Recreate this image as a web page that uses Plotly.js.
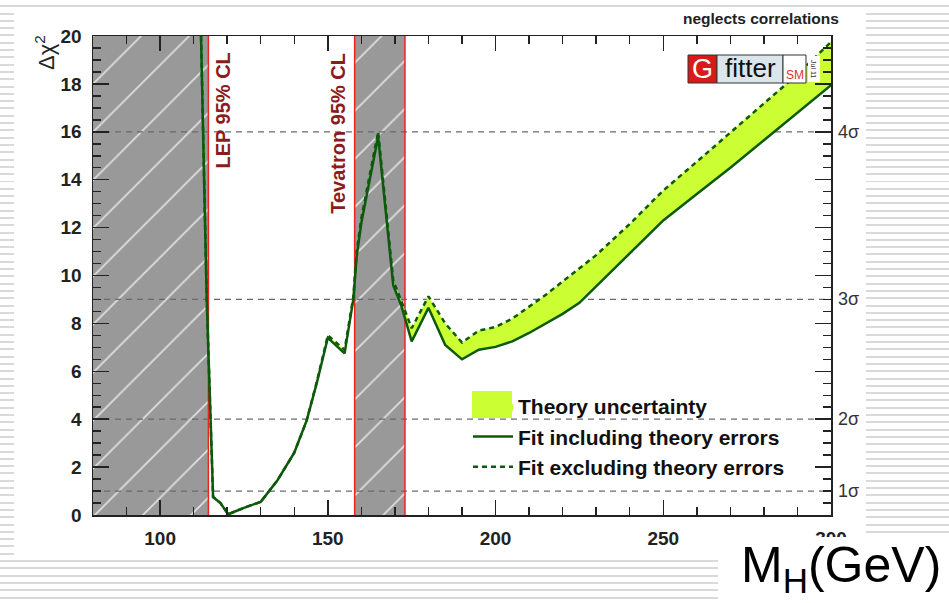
<!DOCTYPE html>
<html><head><meta charset="utf-8">
<script src="https://cdn.plot.ly/plotly-3.0.1.min.js"></script>
<style>
html,body{margin:0;padding:0;width:949px;height:603px;overflow:hidden;
background:repeating-linear-gradient(to bottom,#fff 0px,#fff 5.3px,#d9d9d9 5.3px,#d9d9d9 7.3px);}
#sheet{position:absolute;left:14px;top:10px;width:852px;height:550px;background:#fff;}
#mhbox{position:absolute;left:718px;top:537px;width:231px;height:66px;background:#fff;}
#chart{position:absolute;left:0;top:0;width:949px;height:603px;}
</style></head><body>
<div id="sheet"></div><div id="mhbox"></div><div id="chart"></div>
<script>
// Higgs mass (GeV)
const mh = [112.2, 113.9, 115.8, 118, 120.3, 125, 130, 135, 140, 143.7, 146.7, 150, 155, 157.6, 158.6, 160, 165, 169.5, 172, 175, 180, 185, 190, 195, 200, 205, 210, 215, 220, 225, 230, 240, 250, 260, 270, 280, 290, 300];
// Delta chi^2, fit including theory errors (solid)
const chi2Incl = [20, 9, 0.75, 0.5, 0.03, 0.3, 0.55, 1.45, 2.6, 3.95, 5.5, 7.4, 6.75, 9.0, 10.8, 12.2, 15.8, 9.6, 8.7, 7.25, 8.65, 7.1, 6.5, 6.9, 7.02, 7.25, 7.6, 8.0, 8.4, 8.86, 9.55, 10.9, 12.3, 13.4, 14.5, 15.65, 16.8, 17.95];
// Delta chi^2, fit excluding theory errors (dashed)
const chi2Excl = [20, 9, 0.75, 0.5, 0.03, 0.3, 0.55, 1.45, 2.6, 3.95, 5.55, 7.5, 6.9, 9.1, 11.0, 12.4, 16.0, 9.8, 8.9, 7.8, 9.13, 8.0, 7.2, 7.7, 7.85, 8.2, 8.7, 9.2, 9.75, 10.3, 10.85, 12.15, 13.55, 14.75, 15.97, 17.2, 18.4, 19.75];
// exclusion limits (GeV)
const lepLimit = 114.4;
const tevatronLimits = [158, 173];
const xMin = 80, xMax = 300, yMin = 0, yMax = 20;
// significance levels
const sigmaLevels = [1, 4, 9, 16];
const sigmaLabels = ['1σ', '2σ', '3σ', '4σ'];
const xTicks = [100, 150, 200, 250, 300];
const yTicks = [0, 2, 4, 6, 8, 10, 12, 14, 16, 18, 20];

const FONT = 'Liberation Sans, Arial, Helvetica, sans-serif';
const L = 93, R = 118, T = 36, B = 88, W = 949, H = 603;
const pw = W - L - R, ph = H - T - B;
const px = v => (v - L) / pw;
const py = v => (H - B - v) / ph;

const traces = [];
const hatch = {shape: '/', bgcolor: '#999999', fgcolor: '#e0e0e0', size: 34, solidity: 0.05, fillmode: 'replace'};
function band(x0, x1) {
  traces.push({x: [x0, x0, x1, x1, x0], y: [yMin, yMax, yMax, yMin, yMin], type: 'scatter', mode: 'lines',
    fill: 'toself', fillcolor: '#999999', fillpattern: hatch, line: {width: 0}, hoverinfo: 'skip', showlegend: false});
}
band(xMin, lepLimit);
band(tevatronLimits[0], tevatronLimits[1]);
sigmaLevels.forEach(s => traces.push({x: [xMin, xMax], y: [s, s], type: 'scatter', mode: 'lines',
  line: {color: '#6a6a6a', width: 1.3, dash: '6px,5px'}, hoverinfo: 'skip', showlegend: false}));
[lepLimit, tevatronLimits[0], tevatronLimits[1]].forEach(v => traces.push({x: [v, v], y: [yMin, yMax], type: 'scatter', mode: 'lines',
  line: {color: '#ee2222', width: 1.5}, hoverinfo: 'skip', showlegend: false}));
// theory uncertainty band
traces.push({x: mh.concat(mh.slice().reverse()), y: chi2Incl.concat(chi2Excl.slice().reverse()), type: 'scatter', mode: 'lines',
  fill: 'toself', fillcolor: '#ccff33', line: {width: 0, color: '#ccff33'}, name: 'Theory uncertainty', legendgroup: 'a'});
traces.push({x: mh, y: chi2Incl, type: 'scatter', mode: 'lines', line: {color: '#0d5a0d', width: 2.5},
  name: 'Fit including theory errors', legendgroup: 'b'});
traces.push({x: mh, y: chi2Excl, type: 'scatter', mode: 'lines', line: {color: '#0d5a0d', width: 2.5, dash: '5px,4px'},
  name: 'Fit excluding theory errors', legendgroup: 'c'});

const ann = [];
sigmaLevels.forEach((s, i) => ann.push({xref: 'paper', yref: 'y', x: 1, y: s, xanchor: 'left', xshift: 5, text: sigmaLabels[i],
  showarrow: false, font: {family: FONT, size: 18, color: '#333'}}));
ann.push({xref: 'x', yref: 'y', x: 118.8, y: 19.4, xanchor: 'center', yanchor: 'top', textangle: -90, text: 'LEP 95% CL',
  showarrow: false, font: {family: FONT, size: 20, color: '#8c1c1c', weight: 'bold'}});
ann.push({xref: 'x', yref: 'y', x: 153.0, y: 19.4, xanchor: 'center', yanchor: 'top', textangle: -90, text: 'Tevatron 95% CL',
  showarrow: false, font: {family: FONT, size: 20, color: '#8c1c1c', weight: 'bold'}});
ann.push({xref: 'paper', yref: 'paper', x: px(841), y: py(18), xanchor: 'right', yanchor: 'middle', text: 'neglects correlations',
  showarrow: false, font: {family: FONT, size: 15.5, color: '#222', weight: 'bold'}});
ann.push({xref: 'paper', yref: 'paper', x: px(45), y: py(52), xanchor: 'center', yanchor: 'middle', textangle: -90, text: 'Δχ<sup>2</sup>',
  showarrow: false, font: {family: FONT, size: 22, color: '#222'}});
ann.push({xref: 'paper', yref: 'paper', x: px(841), y: py(568), xanchor: 'center', yanchor: 'middle', text: 'M<sub>H</sub>(GeV)',
  showarrow: false, font: {family: FONT, size: 50, color: '#000'}});
// Gfitter logo
ann.push({xref: 'paper', yref: 'paper', x: px(702.5), y: py(69), xanchor: 'center', yanchor: 'middle', text: 'G',
  showarrow: false, font: {family: FONT, size: 27, color: '#fff'}});
ann.push({xref: 'paper', yref: 'paper', x: px(750), y: py(68), xanchor: 'center', yanchor: 'middle', text: 'fitter',
  showarrow: false, font: {family: FONT, size: 26, color: '#111'}});
ann.push({xref: 'paper', yref: 'paper', x: px(794.5), y: py(75), xanchor: 'center', yanchor: 'middle', text: 'SM',
  showarrow: false, font: {family: FONT, size: 12, color: '#e03030'}});
ann.push({xref: 'paper', yref: 'paper', x: px(814), y: py(69), xanchor: 'center', yanchor: 'middle', text: 'Jul 11', textangle: 90,
  showarrow: false, font: {family: FONT, size: 7, color: '#333'}});

function rect(x0, y0, x1, y1, fill, lw, lc) {
  return {type: 'rect', xref: 'paper', yref: 'paper', x0: px(x0), x1: px(x1), y0: py(y0), y1: py(y1),
    fillcolor: fill, line: {color: lc || '#333', width: lw}, layer: 'above'};
}
const shapes = [
  rect(688, 55, 717, 83, '#d91a1a', 1),
  rect(717, 55, 783, 83, '#dbe6ec', 1),
  rect(783, 55, 806, 83, '#ffffff', 1),
  rect(808, 56, 820, 82, '#ffffff', 0),
  // legend swatch for the theory band
  rect(472, 391, 512, 418, '#ccff33', 0),
  // white label box of the slide, covering the lower part of the last tick label
  rect(718, 537, 949, 603, '#ffffff', 0),
];

const tickFont = {family: FONT, size: 19, color: '#222', weight: 'bold'};
const layout = {
  width: W, height: H, margin: {l: L, r: R, t: T, b: B, pad: 0},
  paper_bgcolor: 'rgba(0,0,0,0)', plot_bgcolor: '#fff',
  showlegend: true,
  legend: {x: px(468), y: py(386), xanchor: 'left', yanchor: 'top', bgcolor: 'rgba(0,0,0,0)',
    font: {family: FONT, size: 21, color: '#111', weight: 'bold'}, itemwidth: 40, tracegroupgap: 2, traceorder: 'normal'},
  xaxis: {range: [xMin, xMax], tickvals: xTicks, ticks: 'inside', ticklen: 15, tickwidth: 1.5, tickcolor: '#222',
    showline: true, linecolor: '#222', linewidth: 1.5, mirror: 'ticks', showgrid: false, zeroline: false,
    tickfont: tickFont, ticklabelstandoff: 6,
    minor: {dtick: 10, tick0: 0, ticks: 'inside', ticklen: 8, tickwidth: 1.5, tickcolor: '#222', showgrid: false}},
  yaxis: {range: [yMin, yMax], tickvals: yTicks, ticks: 'inside', ticklen: 16, tickwidth: 1.5, tickcolor: '#222',
    showline: true, linecolor: '#222', linewidth: 1.5, mirror: 'ticks', showgrid: false, zeroline: false,
    tickfont: tickFont, ticklabelstandoff: 6,
    minor: {dtick: 0.5, tick0: 0, ticks: 'inside', ticklen: 8, tickwidth: 1.5, tickcolor: '#222', showgrid: false}},
  annotations: ann, shapes: shapes
};
Plotly.newPlot('chart', traces, layout, {displayModeBar: false, staticPlot: true});
</script></body></html>
